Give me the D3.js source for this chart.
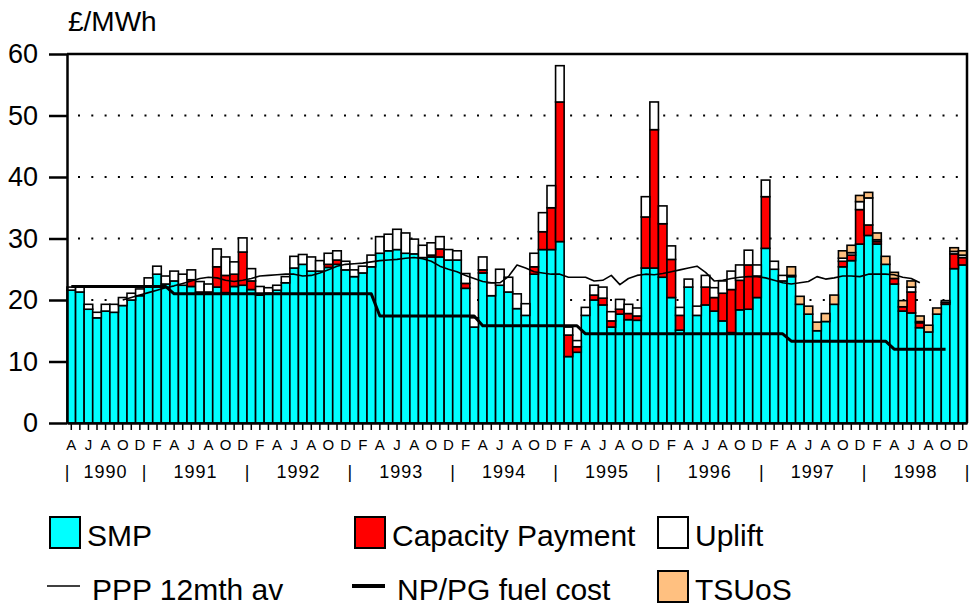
<!DOCTYPE html>
<html>
<head>
<meta charset="utf-8">
<script src="https://cdn.jsdelivr.net/npm/d3@7"></script>
<style>
  body { margin: 0; background: #fff; }
  text { font-family: "Liberation Sans", Arial, sans-serif; fill: #000; }
</style>
</head>
<body>
<svg id="chart" width="971" height="606"></svg>
<script>
// months run Apr 1990 .. Dec 1998
const years = [1990, 1991, 1992, 1993, 1994, 1995, 1996, 1997, 1998];
const monthInitials = ["J", "F", "M", "A", "M", "J", "J", "A", "S", "O", "N", "D"];

// £/MWh, one value per month
const smp = [
  21.6, 21.3, 18.5, 17.1, 18.2, 18.0, 19.1, 20.0, 20.7,
  22.1, 24.2, 22.6, 23.1, 22.4, 22.2, 21.3, 21.3, 22.1, 21.2, 22.2, 22.4,
  21.7, 20.8, 21.1, 21.6, 22.8, 25.2, 25.8, 24.7, 24.7, 25.3, 25.8, 24.9,
  23.8, 24.4, 25.4, 27.6, 28.0, 28.2, 27.6, 27.5, 26.9, 27.0, 27.0, 26.5,
  26.5, 21.9, 15.6, 24.4, 20.7, 22.4, 21.3, 18.6, 17.5, 24.2, 28.2, 28.2,
  29.5, 10.8, 11.5, 17.5, 20.0, 19.2, 15.6, 17.7, 16.8, 16.7, 25.2, 25.2,
  23.7, 20.4, 15.1, 22.1, 17.5, 19.2, 18.2, 16.6, 14.7, 18.4, 18.5, 20.4,
  28.4, 25.0, 23.1, 23.8, 19.3, 17.7, 15.0, 16.5, 19.3, 25.4, 26.4, 29.1,
  30.5, 29.1, 25.8, 22.6, 18.2, 17.9, 15.5, 14.8, 17.7, 19.3, 25.1, 25.7
];
const capacity = [
  0, 0, 0, 0, 0, 0, 0, 0, 0,
  0, 0, 0, 0, 0, 1.1, 0, 0, 3.3, 2.8, 2.0, 5.4,
  1.4, 0, 0, 0, 0, 0, 0, 0, 0, 0.5, 0.7, 0,
  0, 0, 0, 0, 0, 0, 0, 0, 0, 0.3, 1.3, 0,
  0, 0.8, 0, 0.5, 0, 0, 0, 0, 0, 1.2, 2.9, 6.8,
  22.7, 3.5, 0.9, 0, 0.8, 1.1, 1.0, 0.8, 1.0, 0.7, 8.3, 22.5,
  8.7, 6.2, 2.4, 0, 0, 2.9, 2.2, 4.5, 7.0, 4.8, 7.2, 3.5,
  8.4, 0, 0, 0, 0, 0, 0, 0, 0, 0.9, 0.9, 5.6,
  1.7, 0.4, 0, 0.9, 0.7, 3.4, 0.8, 0, 0, 0.3, 2.4, 1.2
];
const uplift = [
  0.5, 0.9, 0.8, 0.9, 1.1, 1.3, 1.3, 1.1, 1.1,
  1.5, 1.3, 1.3, 1.6, 1.8, 1.6, 1.7, 1.3, 2.9, 3.0, 2.0, 2.3,
  2.0, 1.4, 0.9, 0.8, 1.0, 1.9, 1.6, 2.3, 1.7, 1.8, 1.5, 1.4,
  1.1, 1.1, 1.9, 2.7, 2.7, 3.3, 3.3, 2.4, 2.0, 2.0, 2.0, 1.7,
  1.5, 1.6, 1.5, 2.1, 2.1, 2.6, 2.4, 2.4, 1.9, 2.2, 3.1, 3.6,
  5.9, 1.3, 1.0, 1.3, 1.6, 1.8, 1.5, 1.6, 1.5, 1.3, 3.3, 4.5,
  2.9, 2.2, 1.3, 1.3, 1.5, 1.9, 1.6, 2.0, 3.0, 2.5, 2.4, 1.8,
  2.7, 1.3, 0.9, 0.2, 0, 0, 0, 0, 0, 0.5, 0.4, 1.3,
  4.4, 0.3, 0, 0, 0, 0.8, 0.2, 0, 0, 0.3, 0.4, 0.4
];
const tsuos = [
  0, 0, 0, 0, 0, 0, 0, 0, 0,
  0, 0, 0, 0, 0, 0, 0, 0, 0, 0, 0, 0,
  0, 0, 0, 0, 0, 0, 0, 0, 0, 0, 0, 0,
  0, 0, 0, 0, 0, 0, 0, 0, 0, 0, 0, 0,
  0, 0, 0, 0, 0, 0, 0, 0, 0, 0, 0, 0,
  0, 0, 0, 0, 0, 0, 0, 0, 0, 0, 0, 0,
  0, 0, 0, 0, 0, 0, 0, 0, 0, 0, 0, 0,
  0, 0, 0, 1.4, 1.3, 1.3, 1.4, 1.3, 1.5, 1.2, 1.2, 1.0,
  0.9, 1.1, 1.3, 1.0, 1.0, 1.0, 0.9, 1.1, 1.0, 0, 0.6, 0.7
];
const ppp = [
  null, null, null, null, null, null, 20.0, 20.4, 20.8,
  21.2, 21.6, 22.0, 22.3, 22.7, 23.1, 23.5, 23.7, 23.6, 23.2, 23.0, 23.2,
  23.5, 23.9, 24.0, 24.1, 24.2, 24.2, 23.9, 24.0, 24.4, 24.9, 25.5, 25.8,
  25.9, 26.0, 26.2, 26.4, 26.5, 26.6, 26.8, 26.9, 26.7, 26.3, 25.5, 25.0,
  24.6, 24.0, 23.5, 23.0, 22.8, 22.8, 23.8, 25.7, 25.2, 24.6, 24.4, 24.2,
  24.2, 23.7, 23.7, 23.7, 23.1, 23.2, 24.0, 22.5, 23.5, 24.0, 24.2, 24.1,
  24.3, 24.6, 24.9, 25.2, 25.5, 24.5, 23.1, 23.2, 23.5, 23.7, 23.8, 23.8,
  23.6, 23.2, 22.8, 22.6, 22.8, 23.0, 23.8, 23.4, 23.6, 23.9, 23.9, 23.8,
  24.2, 24.2, 24.2, 24.1, 23.7, 23.5, 22.8, null, null, null, null, null
];
const fuelCost = [
  22.2, 22.2, 22.2, 22.2, 22.2, 22.2, 22.2, 22.2, 22.2,
  22.2, 22.2, 22.2, 21.0, 21.0, 21.0, 21.0, 21.0, 21.0, 21.0, 21.0, 21.0,
  21.0, 21.0, 21.0, 21.0, 21.0, 21.0, 21.0, 21.0, 21.0, 21.0, 21.0, 21.0,
  21.0, 21.0, 21.0, 17.4, 17.4, 17.4, 17.4, 17.4, 17.4, 17.4, 17.4, 17.4,
  17.4, 17.4, 17.4, 15.8, 15.8, 15.8, 15.8, 15.8, 15.8, 15.8, 15.8, 15.8,
  15.8, 15.8, 15.8, 14.5, 14.5, 14.5, 14.5, 14.5, 14.5, 14.5, 14.5, 14.5,
  14.5, 14.5, 14.5, 14.5, 14.5, 14.5, 14.5, 14.5, 14.5, 14.5, 14.5, 14.5,
  14.5, 14.5, 14.5, 13.3, 13.3, 13.3, 13.3, 13.3, 13.3, 13.3, 13.3, 13.3,
  13.3, 13.3, 13.3, 12.0, 12.0, 12.0, 12.0, 12.0, 12.0, 12.0, null, null
];
const yTicks = [0, 10, 20, 30, 40, 50, 60];

const colors = { smp: "#00ffff", capacity: "#ff0000", uplift: "#ffffff", tsuos: "#ffc080" };

// one entry per month
const periods = [];
years.forEach(yr => {
  const first = yr === 1990 ? 3 : 0;
  for (let m = first; m < 12; m++) periods.push({ year: yr, month: m });
});
const rows = periods.map((p, i) => ({
  i: i, smp: smp[i], capacity: capacity[i], uplift: uplift[i], tsuos: tsuos[i]
}));

const svg = d3.select("#chart");
const plotLeft = 67, plotRight = 967, plotTop = 54, plotBottom = 423;

const x = d3.scaleBand().domain(d3.range(periods.length)).range([plotLeft, plotRight]).padding(0);
const y = d3.scaleLinear().domain([0, 60]).range([plotBottom, plotTop]);

// dotted gridlines
svg.append("g")
  .selectAll("line")
  .data(yTicks.filter(v => v > 0 && v < 60))
  .join("line")
  .attr("x1", plotLeft + 11).attr("x2", plotRight)
  .attr("y1", d => y(d)).attr("y2", d => y(d))
  .attr("stroke", "#000")
  .attr("stroke-width", 2)
  .attr("stroke-dasharray", "2,11.3");

// stacked bars
const keys = ["smp", "capacity", "uplift", "tsuos"];
const series = d3.stack().keys(keys)(rows);

svg.append("g")
  .selectAll("g")
  .data(series)
  .join("g")
  .attr("fill", d => colors[d.key])
  .selectAll("rect")
  .data(d => d.filter(s => s[1] - s[0] > 0))
  .join("rect")
  .attr("x", d => x(d.data.i))
  .attr("width", x.bandwidth())
  .attr("y", d => y(d[1]))
  .attr("height", d => y(d[0]) - y(d[1]))
  .attr("stroke", "#000")
  .attr("stroke-width", 1.6);

// lines
const lineGen = d3.line()
  .defined(d => d.v !== null)
  .x(d => x(d.i) + x.bandwidth() / 2)
  .y(d => y(d.v));

svg.append("path")
  .datum(ppp.map((v, i) => ({ i: i, v: v })))
  .attr("fill", "none")
  .attr("stroke", "#000")
  .attr("stroke-width", 1.6)
  .attr("stroke-linejoin", "round")
  .attr("d", lineGen);

svg.append("path")
  .datum(fuelCost.map((v, i) => ({ i: i, v: v })))
  .attr("fill", "none")
  .attr("stroke", "#000")
  .attr("stroke-width", 3)
  .attr("stroke-linejoin", "round")
  .attr("d", lineGen);

// frame top + right
svg.append("path")
  .attr("d", `M${plotLeft},${y(60)}H${plotRight}V${y(0)}`)
  .attr("fill", "none")
  .attr("stroke", "#000")
  .attr("stroke-width", 2.5);

// y axis
const yAxis = svg.append("g")
  .attr("transform", `translate(${plotLeft},0)`)
  .call(d3.axisLeft(y).tickValues(yTicks).tickSize(18).tickPadding(11).tickSizeOuter(0));
yAxis.selectAll("line").attr("stroke-width", 2.5);
yAxis.select(".domain").attr("stroke-width", 2.5);
yAxis.selectAll("text")
  .style("font-family", '"Liberation Sans", Arial, sans-serif')
  .style("font-size", "27px");

// x axis: ticks at every month, initials every second month
const xAxis = svg.append("g")
  .attr("transform", `translate(0,${plotBottom})`)
  .call(d3.axisBottom(x)
    .tickSize(7)
    .tickSizeOuter(0)
    .tickPadding(9)
    .tickFormat(i => i % 2 === 0 ? monthInitials[periods[i].month] : ""));
xAxis.select(".domain").attr("stroke-width", 2.5);
xAxis.selectAll("line").attr("stroke-width", 1.5);
xAxis.selectAll("text")
  .style("font-family", '"Liberation Sans", Arial, sans-serif')
  .style("font-size", "15px");

// year labels with separators
const yearStarts = years.map(yr => periods.findIndex(p => p.year === yr));
const yearG = svg.append("g").attr("font-size", 18);
yearG.selectAll(".sep")
  .data(yearStarts.map(i => x(i)).concat([plotRight]))
  .join("text")
  .attr("class", "sep")
  .attr("x", d => d)
  .attr("y", 478)
  .attr("text-anchor", "middle")
  .text("|");
yearG.selectAll(".yr")
  .data(years)
  .join("text")
  .attr("class", "yr")
  .attr("x", (yr, k) => {
    const a = x(yearStarts[k]);
    const b = k + 1 < years.length ? x(yearStarts[k + 1]) : plotRight;
    return (a + b) / 2;
  })
  .attr("y", 478)
  .attr("text-anchor", "middle")
  .attr("letter-spacing", 1)
  .text(d => d);

// unit label
svg.append("text")
  .attr("x", 68)
  .attr("y", 31)
  .attr("font-size", 28)
  .text("£/MWh");

// legend
const legendItems = [
  { label: "SMP", type: "box", color: colors.smp, x: 50, y: 517 },
  { label: "Capacity Payment", type: "box", color: colors.capacity, x: 355, y: 517 },
  { label: "Uplift", type: "box", color: colors.uplift, x: 658, y: 517 },
  { label: "PPP 12mth av", type: "line", width: 1.6, x: 47, y: 571 },
  { label: "NP/PG fuel cost", type: "line", width: 4, x: 352, y: 571 },
  { label: "TSUoS", type: "box", color: colors.tsuos, x: 658, y: 571 }
];
const lg = svg.append("g").selectAll("g").data(legendItems).join("g")
  .attr("transform", d => `translate(${d.x},${d.y})`);
lg.filter(d => d.type === "box").append("rect")
  .attr("width", 30).attr("height", 31)
  .attr("fill", d => d.color)
  .attr("stroke", "#000").attr("stroke-width", 2);
lg.filter(d => d.type === "line").append("line")
  .attr("x1", 0).attr("x2", 33).attr("y1", 15).attr("y2", 15)
  .attr("stroke", "#000").attr("stroke-width", d => d.width);
lg.append("text")
  .attr("x", d => d.type === "box" ? 37 : 45)
  .attr("y", 29)
  .attr("font-size", 30)
  .text(d => d.label);
</script>
</body>
</html>
